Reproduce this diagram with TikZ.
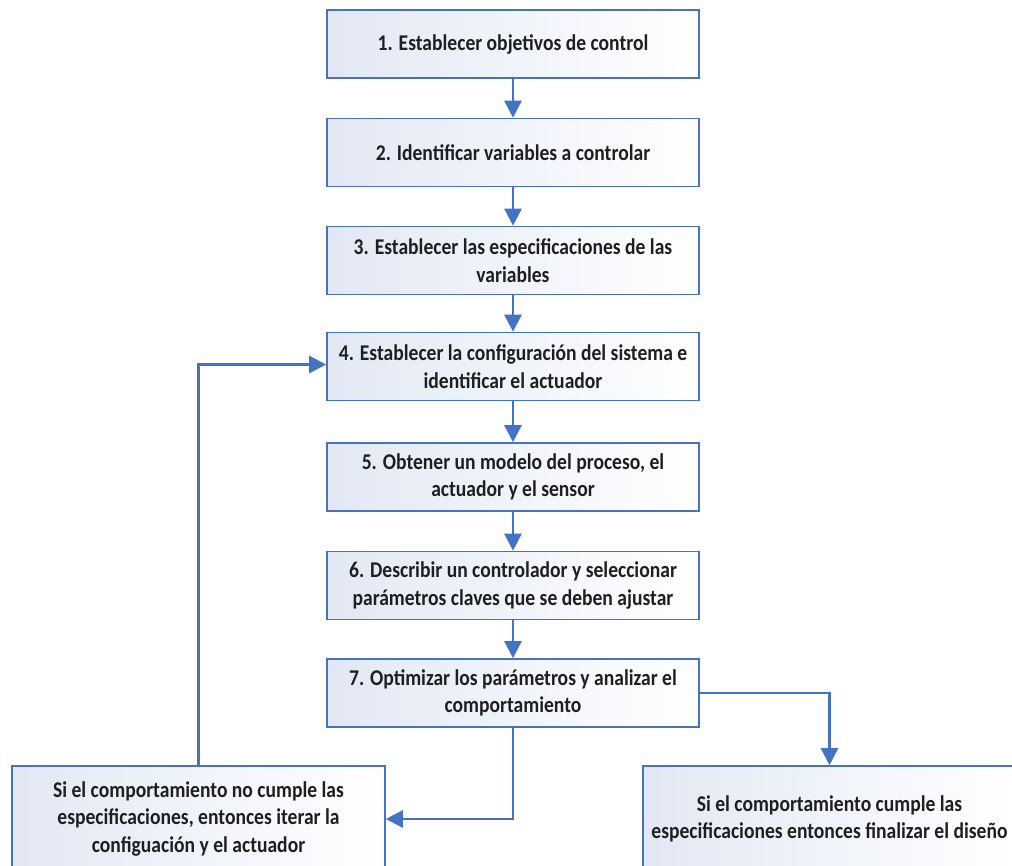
\documentclass[tikz,border=0pt]{standalone}
\usepackage{fontspec}
\setmainfont{Carlito}[FakeStretch=0.87]
\usetikzlibrary{arrows.meta}
\definecolor{bord}{RGB}{68,114,196}
\definecolor{fillL}{RGB}{226,232,244}
\begin{document}
\begin{tikzpicture}[x=1pt,y=-1pt,
  box/.style={draw=bord,line width=1.6pt,left color=fillL,right color=white,
    minimum width=372pt,minimum height=68pt,align=center,inner sep=0pt,
    font=\bfseries\fontsize{22.5}{27.5}\selectfont,text=black!88},
  conn/.style={draw=bord,line width=2.6pt,-{Triangle[width=17pt,length=17pt]}}]
\clip (0,0) rectangle (1012,865);
\fill[white] (0,0) rectangle (1012,865);
\node[box] (b1) at (513,44) {1. Establecer objetivos de control};
\node[box] (b2) at (513,152.5) {2. Identificar variables a controlar};
\node[box] (b3) at (513,260.5) {3. Establecer las especificaciones de las\\variables};
\node[box] (b4) at (513,366.5) {4. Establecer la configuración del sistema e\\identificar el actuador};
\node[box] (b5) at (513,477) {5. Obtener un modelo del proceso, el\\actuador y el sensor};
\node[box] (b6) at (513,585.5) {6. Describir un controlador y seleccionar\\parámetros claves que se deben ajustar};
\node[box] (b7) at (513,693) {7. Optimizar los parámetros y analizar el\\comportamiento};
\node[box,minimum width=373pt,minimum height=106pt] (L) at (198.5,819) {Si el comportamiento no cumple las\\especificaciones, entonces iterar la\\configuación y el actuador};
\node[box,minimum width=373pt,minimum height=106pt] (R) at (829.5,819) {Si el comportamiento cumple las\\especificaciones entonces finalizar el diseño};
\draw[conn] (b1) -- (b2);
\draw[conn] (b2) -- (b3);
\draw[conn] (b3) -- (b4);
\draw[conn] (b4) -- (b5);
\draw[conn] (b5) -- (b6);
\draw[conn] (b6) -- (b7);
\draw[conn] (b7.south) |- (L.east);
\draw[conn] (b7.east) -| (R.north);
\draw[conn] (L.north) |- ([yshift=2pt]b4.west);
\end{tikzpicture}
\end{document}
